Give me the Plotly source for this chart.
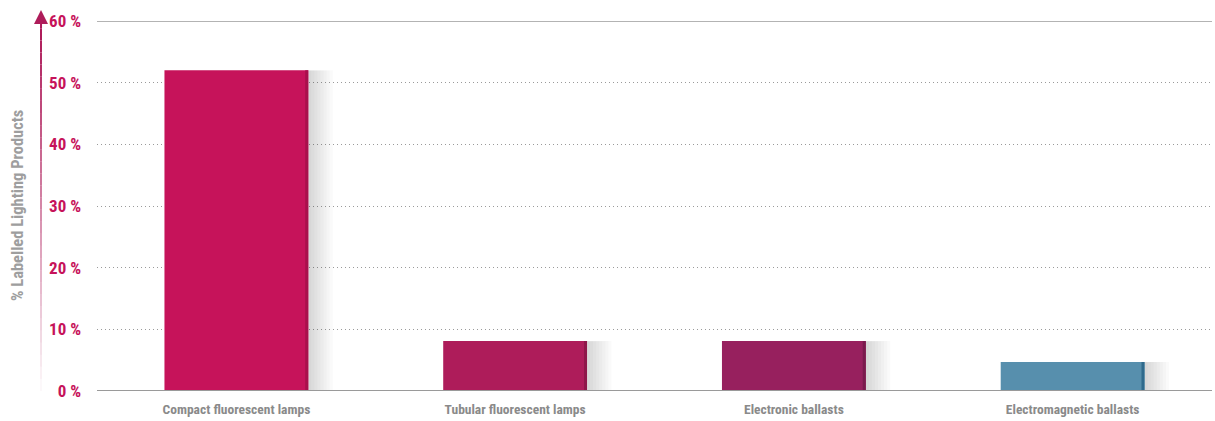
import plotly.graph_objects as go

categories = ["Compact fluorescent lamps", "Tubular fluorescent lamps", "Electronic ballasts", "Electromagnetic ballasts"]
values = [52.0, 8.1, 8.1, 4.7]
bar_colors = ["#C6135A", "#AE1C5A", "#97205E", "#578FAD"]
edge_colors = ["#A8104C", "#8E1649", "#7A1A4D", "#2F6A8C"]
tick_vals = [0, 10, 20, 30, 40, 50, 60]
tick_text = ["0 %", "10 %", "20 %", "30 %", "40 %", "50 %", "60 %"]

FONT = "Roboto Condensed, DejaVu Sans Condensed, Liberation Sans Narrow, sans-serif"
x = list(range(len(categories)))
W = 0.516

fig = go.Figure()
# soft shadows to the right of each bar
n_sh = 8
for k in range(n_sh):
    w = 0.011 * (k + 1)
    fig.add_trace(go.Bar(x=x, y=values, width=w, offset=W / 2, marker=dict(color="rgba(0,0,0,0.018)", line=dict(width=0)),
                         hoverinfo="skip", showlegend=False))
fig.add_trace(go.Bar(x=x, y=values, width=W, offset=-W / 2, marker=dict(color=bar_colors, line=dict(width=0)),
                     showlegend=False))
fig.add_trace(go.Bar(x=x, y=values, width=0.011, offset=W / 2 - 0.011, marker=dict(color=edge_colors, line=dict(width=0)),
                     hoverinfo="skip", showlegend=False))

fig.update_layout(
    width=1215, height=421,
    margin=dict(l=97, r=3, t=21, b=30),
    barmode="overlay",
    plot_bgcolor="white", paper_bgcolor="white",
    font=dict(family=FONT),
    xaxis=dict(tickmode="array", tickvals=x, ticktext=categories, range=[-0.5, 3.5], automargin=False,
               showgrid=False, zeroline=False, showline=False, ticklabelstandoff=8,
               tickfont=dict(size=13.5, color="#8a8a8a", family=FONT, weight="bold"), ticks=""),
    yaxis=dict(range=[0, 60], tickmode="array", tickvals=tick_vals, ticktext=tick_text, automargin=False,
               showgrid=True, gridcolor="#9a9a9a", griddash="1px,3px", gridwidth=1,
               zeroline=False, showline=False, ticklabelstandoff=15,
               tickfont=dict(size=17, color="#C6135A", family=FONT, weight="bold")),
)

# solid lines at 0 and 60
fig.add_shape(type="line", xref="paper", yref="y", x0=0, x1=1, y0=0, y1=0, line=dict(color="#9a9a9a", width=2))
fig.add_shape(type="line", xref="paper", yref="y", x0=0, x1=1, y0=60, y1=60, line=dict(color="#9a9a9a", width=1.5))

# gradient arrow on the left
AX = -0.0502
n = 30
for k in range(n):
    a = (k + 1) / n
    y0 = 0.0 + 0.98 * k / n
    y1 = 0.0 + 0.98 * (k + 1) / n
    fig.add_shape(type="line", xref="paper", yref="paper", x0=AX, x1=AX, y0=y0, y1=y1,
                  line=dict(color=f"rgba(174,28,90,{a:.3f})", width=2))
fig.add_annotation(xref="paper", yref="paper", x=AX, y=1.03, ax=0, ay=20, showarrow=True,
                   arrowhead=2, arrowsize=1.4, arrowwidth=2, arrowcolor="#AE1C5A", text="")

fig.add_annotation(xref="paper", yref="paper", x=-0.0717, y=0.5, xanchor="center", yanchor="middle",
                   text="% Labelled Lighting Products",
                   textangle=-90, showarrow=False, font=dict(size=16.5, color="#9e9e9e", family=FONT, weight="bold"))

fig.write_html("out.html", config={"displayModeBar": False},
               post_script="document.body.style.margin='0';document.body.style.overflow='hidden';")
